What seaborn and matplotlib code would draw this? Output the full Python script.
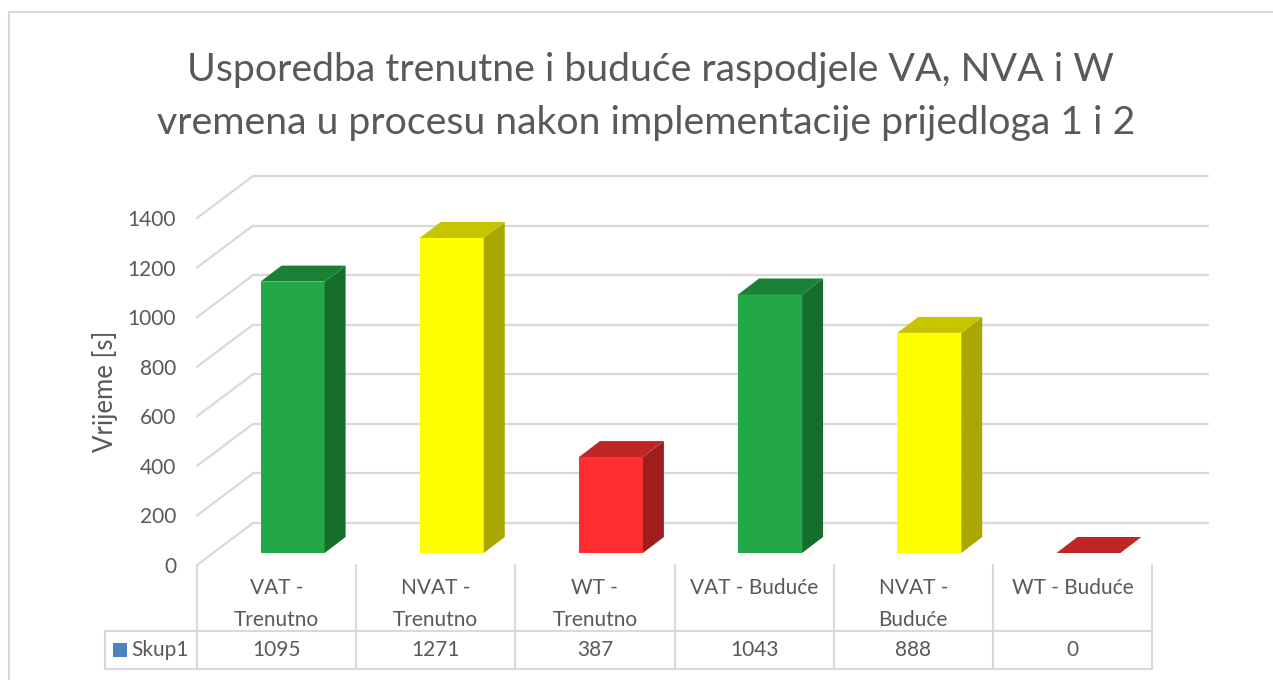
import matplotlib
matplotlib.use("Agg")
import matplotlib.pyplot as plt
from matplotlib.patches import Polygon, Rectangle
from matplotlib.lines import Line2D
from matplotlib.transforms import Affine2D, IdentityTransform, blended_transform_factory
import seaborn as sns
import pandas as pd

# ---- data ----
categories = ["VAT - Trenutno", "NVAT - Trenutno", "WT - Trenutno",
              "VAT - Buduće", "NVAT - Buduće", "WT - Buduće"]
tick_labels = ["VAT -\nTrenutno", "NVAT -\nTrenutno", "WT -\nTrenutno",
               "VAT - Buduće", "NVAT -\nBuduće", "WT - Buduće"]
values = [1095, 1271, 387, 1043, 888, 0]
series_name = "Skup1"
title_lines = ["Usporedba trenutne i buduće raspodjele VA, NVA i W",
               "vremena u procesu nakon implementacije prijedloga 1 i 2"]
y_label = "Vrijeme [s]"
y_ticks = [0, 200, 400, 600, 800, 1000, 1200, 1400]

# ---- style ----
front_colors = ["#22A846", "#FFFF00", "#FF2F2F", "#22A846", "#FFFF00", "#FF2F2F"]
side_colors = ["#156E2B", "#A8A800", "#9E1E1E", "#156E2B", "#A8A800", "#9E1E1E"]
top_colors = ["#1A8035", "#C8C400", "#C02626", "#1A8035", "#C8C400", "#C02626"]
TEXT = "#595959"
GRID = "#D9D9D9"

sns.set_theme(style="white")
plt.rcParams["font.family"] = ["Lato", "DejaVu Sans"]

W, H, DPI = 1273, 680, 100
fig = plt.figure(figsize=(W / DPI, H / DPI), dpi=DPI)
fig.patch.set_facecolor("white")

# front plane of the 3-D box: x from 197 px to 1152 px, y 0 at 565 px, 1400 at 218 px
ax = fig.add_axes([197 / W, (H - 565) / H, 955 / W, 347 / H])
ax.set_facecolor("none")

df = pd.DataFrame({"cat": categories, "val": values})
sns.barplot(data=df, x="cat", y="val", hue="cat", palette=front_colors,
            width=0.402, saturation=1, legend=False, ax=ax, zorder=5,
            linewidth=0)
ax.set_xlim(-0.5, len(categories) - 0.5)
ax.set_ylim(0, 1400)
for s in ax.spines.values():
    s.set_visible(False)
ax.grid(False)

# oblique depth offsets in pixels
BAR_FRONT = (16, 12)    # bar front face behind the front plane
BAR_DEPTH = (21, 16)    # bar thickness
WALL = (56, 42)         # back wall

ident = IdentityTransform()

# back wall gridlines + left side wall diagonals
for t in y_ticks:
    xl, yv = ax.transData.transform((-0.5, t))
    xr, _ = ax.transData.transform((len(categories) - 0.5, t))
    ax.add_line(Line2D([xl, xl + WALL[0]], [yv, yv + WALL[1]], color=GRID,
                       lw=1.6, transform=ident, clip_on=False, zorder=1))
    ax.add_line(Line2D([xl + WALL[0], xr + WALL[0]], [yv + WALL[1], yv + WALL[1]],
                       color=GRID, lw=1.6, transform=ident, clip_on=False, zorder=1,
                       solid_capstyle="round"))

# 3-D faces for every bar
bars = list(ax.patches)
shift = Affine2D().translate(*BAR_FRONT)
for i, p in enumerate(bars):
    p.set_transform(ax.transData + shift)
    x0, y0 = ax.transData.transform((p.get_x(), 0))
    x1, y1 = ax.transData.transform((p.get_x() + p.get_width(), p.get_height()))
    x0 += BAR_FRONT[0]; x1 += BAR_FRONT[0]
    y0 += BAR_FRONT[1]; y1 += BAR_FRONT[1]
    dx, dy = BAR_DEPTH
    if y1 - y0 > 0.5:
        side = Polygon([(x1, y0), (x1 + dx, y0 + dy), (x1 + dx, y1 + dy), (x1, y1)],
                       closed=True, facecolor=side_colors[i], edgecolor="none",
                       transform=ident, clip_on=False, zorder=5)
        ax.add_patch(side)
    top = Polygon([(x0, y1), (x1, y1), (x1 + dx, y1 + dy), (x0 + dx, y1 + dy)],
                  closed=True, facecolor=top_colors[i], edgecolor="none",
                  transform=ident, clip_on=False, zorder=5)
    ax.add_patch(top)

# axis labels
ax.set_yticks(y_ticks)
ax.set_yticklabels([str(t) for t in y_ticks])
ax.tick_params(axis="y", length=0, pad=15, labelsize=15, labelcolor=TEXT)
ax.set_xticks(range(len(categories)))
ax.set_xticklabels(tick_labels)
ax.tick_params(axis="x", length=0, pad=9, labelsize=15, labelcolor=TEXT)
for lab in ax.get_xticklabels():
    lab.set_linespacing(1.8)
ax.set_xlabel("")
ax.set_ylabel(y_label, fontsize=18.5, color=TEXT)
ax.yaxis.set_label_coords(-0.083, 0.5)

# data table under the plot
top_y = H - 565
row_top = H - 631
row_bot = H - 669
left_x = 105
for k in range(len(categories) + 1):
    xk, _ = ax.transData.transform((k - 0.5, 0))
    ax.add_line(Line2D([xk, xk], [top_y, row_bot], color=GRID, lw=1.5,
                       transform=ident, clip_on=False, zorder=1))
xr, _ = ax.transData.transform((len(categories) - 0.5, 0))
for yy in (row_top, row_bot):
    ax.add_line(Line2D([left_x, xr], [yy, yy], color=GRID, lw=1.5,
                       transform=ident, clip_on=False, zorder=1))
ax.add_line(Line2D([left_x, left_x], [row_top, row_bot], color=GRID, lw=1.5,
                   transform=ident, clip_on=False, zorder=1))

row_mid = (row_top + row_bot) / 2 / H
blend = blended_transform_factory(ax.transData, fig.transFigure)
for i, v in enumerate(values):
    ax.text(i, row_mid, f"{v}", transform=blend, ha="center", va="center",
            fontsize=15, color=TEXT, clip_on=False)
fig.add_artist(Rectangle((113 / W, (H - 657) / H), 14 / W, 14 / H,
                         transform=fig.transFigure, facecolor="#4F81BD",
                         edgecolor="none"))
fig.text(131 / W, row_mid, series_name, ha="left", va="center",
         fontsize=15, color=TEXT)

# title
fig.text(650 / W, (H - 81) / H, title_lines[0], ha="center", va="baseline",
         fontsize=28.3, color=TEXT)
fig.text(646 / W, (H - 134) / H, title_lines[1], ha="center", va="baseline",
         fontsize=28.3, color=TEXT)

# chart border
fig.add_artist(Line2D([8.5 / W, 8.5 / W], [0, (H - 12) / H], color=GRID, lw=1.5,
                      transform=fig.transFigure))
fig.add_artist(Line2D([8.5 / W, 1], [(H - 12) / H, (H - 12) / H], color=GRID,
                      lw=1.5, transform=fig.transFigure))

fig.savefig("out.png", dpi=DPI)
